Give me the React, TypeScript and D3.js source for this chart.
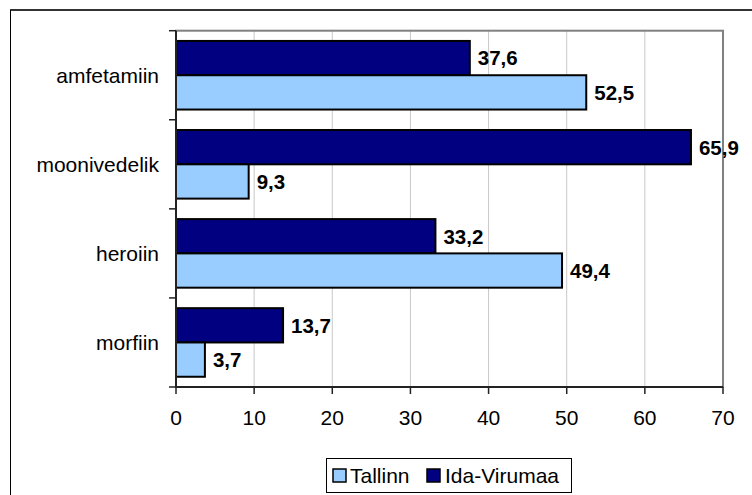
import React from 'react';
import * as d3 from 'd3';

const categories = ['amfetamiin', 'moonivedelik', 'heroiin', 'morfiin'];
const seriesNames = ['Ida-Virumaa', 'Tallinn'];
const tallinn = [52.5, 9.3, 49.4, 3.7];
const idaVirumaa = [37.6, 65.9, 33.2, 13.7];
const xTicks = [0, 10, 20, 30, 40, 50, 60, 70];

const colors: Record<string, string> = { 'Ida-Virumaa': '#000080', Tallinn: '#99CCFF' };
const font = 'Arial, "Liberation Sans", sans-serif';

const fmt = d3.formatLocale({ decimal: ',', thousands: ' ', grouping: [3], currency: ['', ''] }).format('.1f');

export default function App() {
  const width = 752;
  const height = 495;
  const plot = { left: 176, right: 723, top: 30.7, bottom: 387 };

  const x = d3.scaleLinear().domain([0, 70]).range([plot.left, plot.right]);
  const y = d3.scaleBand().domain(categories).range([plot.top, plot.bottom]).paddingInner(0.23).paddingOuter(0.115);
  const sub = d3.scaleBand().domain(seriesNames).range([0, y.bandwidth()]);

  const rows = categories.map((c, i) => ({ cat: c, values: { 'Ida-Virumaa': idaVirumaa[i], Tallinn: tallinn[i] } as Record<string, number> }));
  const catTicks = d3.range(categories.length + 1).map(i => plot.top + (i * (plot.bottom - plot.top)) / categories.length);

  return (
    <svg width={width} height={height} style={{ position: 'absolute', left: 0, top: 0, background: '#fff' }} fontFamily={font}>
      {/* outer frame */}
      <line x1={10} x2={width} y1={10} y2={10} stroke="#333" strokeWidth={2} />
      <line x1={10.5} x2={10.5} y1={10} y2={height} stroke="#000" strokeWidth={1} />

      {/* gridlines */}
      {xTicks.slice(1, -1).map(t => (
        <line key={t} x1={x(t)} x2={x(t)} y1={plot.top} y2={plot.bottom} stroke="#c8c8c8" strokeWidth={1} />
      ))}
      <rect x={plot.left} y={plot.top} width={plot.right - plot.left} height={plot.bottom - plot.top} fill="none" stroke="#808080" strokeWidth={2} />

      {/* bars */}
      {rows.map(r => (
        <g key={r.cat} transform={`translate(0,${y(r.cat)})`}>
          {seriesNames.map(s => (
            <g key={s}>
              <rect x={x(0)} y={sub(s)} width={x(r.values[s]) - x(0)} height={sub.bandwidth()} fill={colors[s]} stroke="#000" strokeWidth={2} />
              <text x={x(r.values[s]) + 8} y={(sub(s) ?? 0) + sub.bandwidth() / 2} dy="0.36em" fontSize={20.5} fontWeight="bold" fill="#000">
                {fmt(r.values[s])}
              </text>
            </g>
          ))}
        </g>
      ))}

      {/* y axis */}
      <line x1={plot.left} x2={plot.left} y1={plot.top} y2={plot.bottom} stroke="#222" strokeWidth={2} />
      {catTicks.map((t, i) => (
        <line key={i} x1={plot.left - 7} x2={plot.left} y1={t} y2={t} stroke="#222" strokeWidth={1.5} />
      ))}
      {categories.map(c => (
        <text key={c} x={159} y={(y(c) ?? 0) + y.bandwidth() / 2} dy="0.36em" textAnchor="end" fontSize={21} fill="#000">
          {c}
        </text>
      ))}

      {/* x axis */}
      <line x1={plot.left} x2={plot.right} y1={plot.bottom} y2={plot.bottom} stroke="#222" strokeWidth={2} />
      {xTicks.map(t => (
        <g key={t}>
          <line x1={x(t)} x2={x(t)} y1={plot.bottom} y2={plot.bottom + 7} stroke="#222" strokeWidth={1.5} />
          <text x={x(t)} y={425} textAnchor="middle" fontSize={21} fill="#000">{t}</text>
        </g>
      ))}

      {/* legend */}
      <rect x={326.5} y={458.5} width={245} height={34} fill="#fff" stroke="#000" strokeWidth={1} />
      {[
        { name: 'Tallinn', sx: 333, tx: 350 },
        { name: 'Ida-Virumaa', sx: 427, tx: 445 },
      ].map(l => (
        <g key={l.name}>
          <rect x={l.sx} y={469} width={13} height={13} fill={colors[l.name]} stroke="#000" strokeWidth={1.5} />
          <text x={l.tx} y={483} fontSize={21} fill="#000">{l.name}</text>
        </g>
      ))}
    </svg>
  );
}
